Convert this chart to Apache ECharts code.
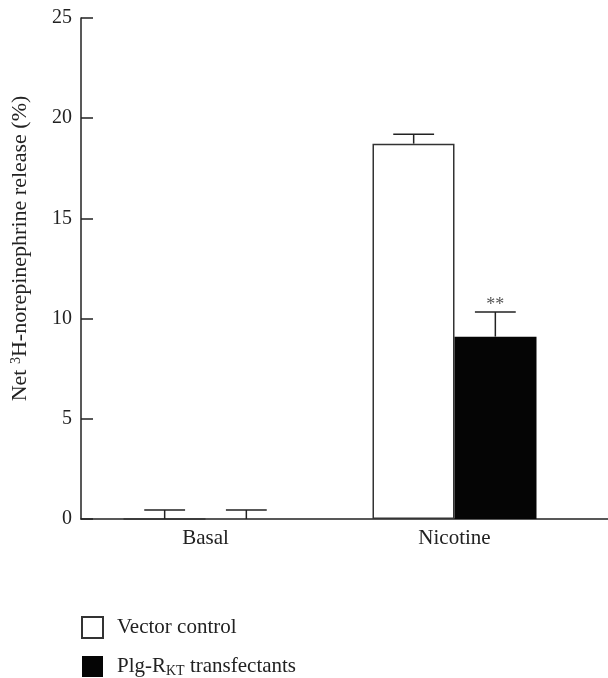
<!DOCTYPE html>
<html>
<head>
<meta charset="utf-8">
<script src="https://cdn.jsdelivr.net/npm/echarts@6/dist/echarts.min.js"></script>
<style>html,body{margin:0;padding:0;background:#fff}#c{width:608px;height:678px}</style>
</head>
<body>
<div id="c"></div>
<script>
const categories = ['Basal', 'Nicotine'];
const vectorValues = [0, 18.73];
const vectorErrors = [0.45, 0.47];
const plgValues = [0, 9.1];
const plgErrors = [0.45, 1.23];
const plgAnnotations = ['', '**'];
const yTicks = [0, 5, 10, 15, 20, 25];

const FONT = '"Liberation Serif", "DejaVu Serif", serif';
const INK = '#222';
const BAR_FRAC = 0.328; // bar width as a fraction of the category band

const chart = echarts.init(document.getElementById('c'), null, {renderer: 'canvas'});

function errorSeries(name, values, errors, notes, side) {
  return {
    type: 'custom',
    name: name + ' err',
    xAxisIndex: 0, yAxisIndex: 0,
    silent: true,
    z: 5,
    data: categories.map((c, i) => [i, values[i], errors[i]]),
    renderItem: function (params, api) {
      const idx = params.dataIndex;
      const band = api.size([1, 0])[0];
      const off = side * band * BAR_FRAC / 2;
      const base = api.coord([api.value(0), api.value(1)]);
      const top = api.coord([api.value(0), api.value(1) + api.value(2)]);
      const x = base[0] + off;
      const half = band * 0.082;
      const children = [
        {type: 'line', shape: {x1: x, y1: base[1], x2: x, y2: top[1]}, style: {stroke: INK, lineWidth: 1.5}},
        {type: 'line', shape: {x1: x - half, y1: top[1], x2: x + half, y2: top[1]}, style: {stroke: INK, lineWidth: 1.5}}
      ];
      if (notes && notes[idx]) {
        children.push({type: 'text', style: {text: notes[idx], x: x, y: top[1] + 2, textAlign: 'center', textVerticalAlign: 'bottom', font: '18px ' + FONT, fill: '#555'}});
      }
      return {type: 'group', children: children};
    }
  };
}

const option = {
  animation: false,
  backgroundColor: '#fff',
  grid: [
    {left: 81, width: 498, top: 18, bottom: 159, containLabel: false, outerBoundsMode: 'none'},
    {left: 81, right: 0, top: 18, bottom: 159, containLabel: false, outerBoundsMode: 'none'}
  ],
  legend: {
    orient: 'vertical',
    left: 81,
    top: 616,
    padding: 0,
    itemWidth: 21,
    itemHeight: 21,
    itemGap: 17,
    icon: 'rect',
    data: ['Vector control', 'Plg-R transfectants'],
    formatter: function (n) {
      return n === 'Vector control' ? 'Vector control' : 'Plg-R{sub|KT} transfectants';
    },
    textStyle: {
      fontFamily: FONT, fontSize: 21, color: INK, padding: [0, 0, 0, 9],
      rich: {sub: {fontFamily: FONT, fontSize: 14, color: INK, verticalAlign: 'bottom', padding: [10, 0, 0, 0]}}
    }
  },
  xAxis: [
    {
      type: 'category', gridIndex: 0, data: categories,
      axisLine: {show: false},
      axisTick: {show: false},
      axisLabel: {fontFamily: FONT, fontSize: 21, color: INK, margin: 9}
    },
    {
      type: 'value', gridIndex: 1, min: 0, max: 1,
      axisLine: {show: true, lineStyle: {color: INK, width: 1.5}},
      axisTick: {show: false}, axisLabel: {show: false}, splitLine: {show: false}
    }
  ],
  yAxis: [
    {
      type: 'value', gridIndex: 0, min: 0, max: 25, interval: 5,
      name: 'Net {sup|3}H-norepinephrine release (%)',
      nameLocation: 'middle', nameGap: 49, nameRotate: 90,
      nameTextStyle: {fontFamily: FONT, fontSize: 22, color: INK, padding: [0, 0, 0, 40],
        rich: {sup: {fontFamily: FONT, fontSize: 14, color: INK, verticalAlign: 'top', padding: [0, 0, 9, 0]}}},
      axisLine: {show: true, lineStyle: {color: INK, width: 1.5}},
      axisTick: {show: true, inside: true, length: 12, lineStyle: {color: INK, width: 1.5}},
      axisLabel: {fontFamily: FONT, fontSize: 20, color: INK, margin: 9,
        formatter: function (v) { return yTicks.indexOf(v) >= 0 ? String(v) : ''; }},
      splitLine: {show: false}
    },
    {
      type: 'value', gridIndex: 1, min: 0, max: 25, show: false
    }
  ],
  series: [
    {
      name: 'Vector control', type: 'bar', xAxisIndex: 0, yAxisIndex: 0,
      data: vectorValues, barWidth: 82, barGap: '0%',
      itemStyle: {color: '#fff', borderColor: '#333', borderWidth: 1.5}
    },
    {
      name: 'Plg-R transfectants', type: 'bar', xAxisIndex: 0, yAxisIndex: 0,
      data: plgValues, barWidth: 82, barGap: '0%',
      itemStyle: {color: '#050505', borderColor: '#050505', borderWidth: 0}
    },
    errorSeries('Vector control', vectorValues, vectorErrors, null, -1),
    errorSeries('Plg-R transfectants', plgValues, plgErrors, plgAnnotations, 1)
  ]
};
chart.setOption(option);
</script>
</body>
</html>
